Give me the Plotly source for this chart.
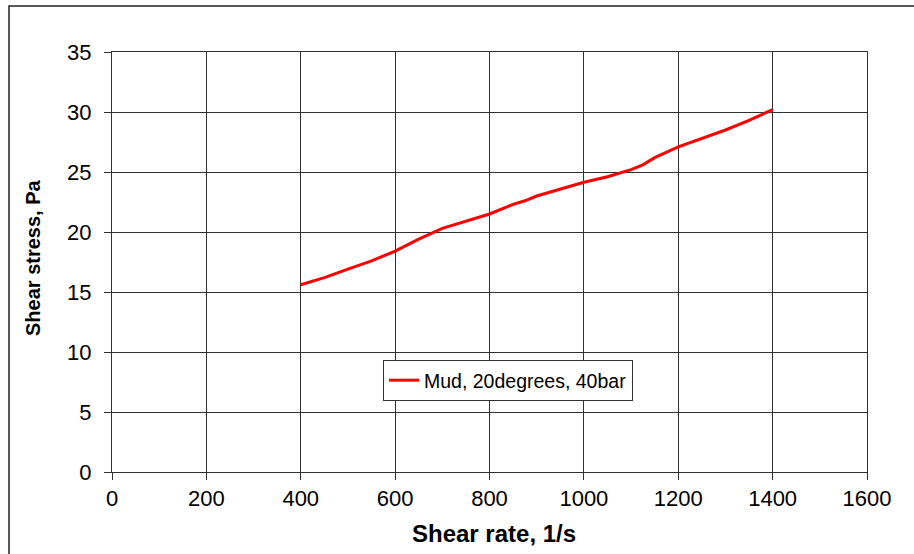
import plotly.graph_objects as go

# values
shear_rate = [400, 450, 500, 550, 600, 650, 700, 750, 800, 850, 875, 900, 950,
              1000, 1050, 1100, 1125, 1150, 1200, 1250, 1300, 1350, 1400]
shear_stress = [15.6, 16.2, 16.9, 17.6, 18.4, 19.4, 20.3, 20.9, 21.5, 22.3, 22.6, 23.0, 23.6,
                24.15, 24.6, 25.2, 25.6, 26.2, 27.1, 27.8, 28.5, 29.3, 30.2]
series_name = "Mud, 20degrees, 40bar"
x_ticks = [0, 200, 400, 600, 800, 1000, 1200, 1400, 1600]
y_ticks = [0, 5, 10, 15, 20, 25, 30, 35]

W, H = 914, 554
L, R, T, B = 112, 47, 52, 82
pw, ph = W - L - R, H - T - B


def px_to_paper(x, y):
    return (x - L) / pw, (H - B - y) / ph


fig = go.Figure()
fig.add_trace(go.Scatter(x=shear_rate, y=shear_stress, mode="lines", name=series_name,
                         line=dict(color="#ff0000", width=3)))

axis_common = dict(
    showgrid=True, gridcolor="#303030", gridwidth=1,
    showline=True, linecolor="#303030", linewidth=1, mirror=True,
    ticks="outside", ticklen=7, tickcolor="#303030",
    tickfont=dict(family="Liberation Sans, Arial", size=22, color="#000"),
    zeroline=False,
)
fig.update_xaxes(range=[0, 1600], tickvals=x_ticks, **axis_common)
fig.update_yaxes(range=[0, 35], tickvals=y_ticks, ticklabelstandoff=8, **axis_common)

lx, ly = px_to_paper(383, 360)
bx0, by1 = px_to_paper(9, 6)
bx1, by0 = px_to_paper(930, 570)
tx, ty = px_to_paper(494, 533)
yx, yy = px_to_paper(33, 258)

fig.update_layout(
    width=W, height=H,
    margin=dict(l=L, r=R, t=T, b=B),
    paper_bgcolor="white", plot_bgcolor="white",
    showlegend=True,
    legend=dict(x=lx, y=ly, xanchor="left", yanchor="top",
                bgcolor="white", bordercolor="#303030", borderwidth=1,
                font=dict(family="Liberation Sans, Arial", size=19.5, color="#000"),
                itemwidth=30, tracegroupgap=0),
    shapes=[dict(type="rect", xref="paper", yref="paper", x0=bx0, x1=bx1, y0=by0, y1=by1,
                 line=dict(color="#222", width=1.5), layer="below")],
    annotations=[
        dict(text="<b>Shear rate, 1/s</b>", xref="paper", yref="paper", x=tx, y=ty,
             showarrow=False, xanchor="center", yanchor="middle",
             font=dict(family="Liberation Sans, Arial", size=24, color="#000")),
        dict(text="<b>Shear stress, Pa</b>", xref="paper", yref="paper", x=yx, y=yy,
             showarrow=False, xanchor="center", yanchor="middle", textangle=-90,
             font=dict(family="Liberation Sans, Arial", size=20, color="#000")),
    ],
)

# drop the page's default body margin so the figure sits at the window's corner
fig.write_html("out.html", config={"displayModeBar": False},
               post_script="document.body.style.margin='0';")
